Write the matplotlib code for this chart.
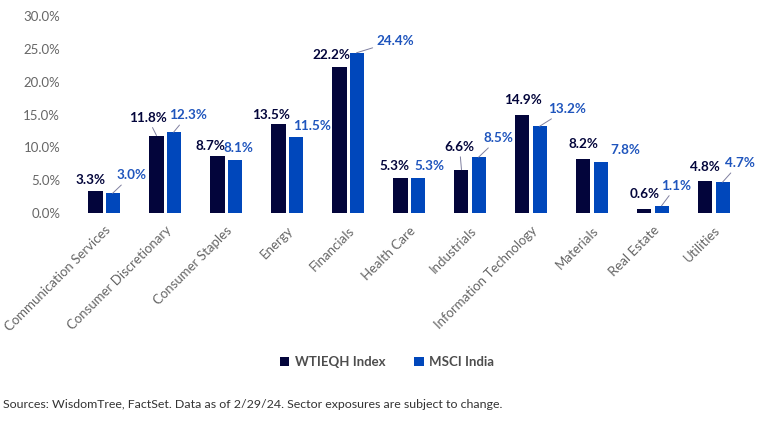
import numpy as np
import matplotlib.pyplot as plt

sectors = ["Communication Services", "Consumer Discretionary", "Consumer Staples",
           "Energy", "Financials", "Health Care", "Industrials",
           "Information Technology", "Materials", "Real Estate", "Utilities"]
wtieqh = [3.3, 11.8, 8.7, 13.5, 22.2, 5.3, 6.6, 14.9, 8.2, 0.6, 4.8]
msci = [3.0, 12.3, 8.1, 11.5, 24.4, 5.3, 8.5, 13.2, 7.8, 1.1, 4.7]

# label offsets from bar top in pixels (dx, dy up), and whether a leader line is drawn
off_dark = [(-5, 11), (-9, 18), (-7, 10), (-7, 9), (-8, 12), (-6, 12),
            (-2, 23), (0, 15), (0, 15), (0, 15), (-1, 14)]
line_dark = [0, 1, 0, 0, 0, 0, 1, 0, 0, 0, 0]
off_blue = [(19, 18), (14, 17), (4, 12), (16, 11), (39, 12), (12, 12),
            (20, 19), (27, 17), (25, 12), (15, 20), (17, 19)]
line_blue = [1, 1, 0, 0, 1, 0, 1, 1, 0, 1, 1]

c_dark = "#03053b"
c_blue = "#0047bb"
grey = "#666666"
plt.rcParams['font.family'] = ['Lato', 'DejaVu Sans']

fig = plt.figure(figsize=(7.59, 4.21), dpi=100)
ax = fig.add_axes([65/759, 1-213/421, 685/759, 197/421])

x = np.arange(len(sectors))
w = 0.23
ax.bar(x - 0.14, wtieqh, w, color=c_dark, label="WTIEQH Index")
ax.bar(x + 0.14, msci, w, color=c_blue, label="MSCI India")

ax.set_ylim(0, 30)
ax.set_xlim(-0.64, 10.59)
ax.set_yticks(np.arange(0, 31, 5))
ax.set_yticklabels([f"{v:.1f}%" for v in np.arange(0, 31, 5)], color=grey, fontsize=9.5)
ax.set_xticks(x)
ax.set_xticklabels(sectors, rotation=45, ha='right', rotation_mode='anchor',
                   color=grey, fontsize=9.5)
ax.tick_params(length=0)
ax.tick_params(axis='x', pad=8)
for s in ax.spines.values():
    s.set_visible(False)

def put(xp, val, off, line, col):
    dx, dy = off
    ap = dict(arrowstyle='-', color='#7f7f9f', lw=0.7, shrinkA=1, shrinkB=0) if line else None
    ax.annotate(f"{val:.1f}%", xy=(xp, val), xytext=(dx*0.72, dy*0.72),
                textcoords='offset points', ha='center', va='center',
                fontsize=9.7, fontweight='bold', color=col, arrowprops=ap)

for i in range(len(sectors)):
    put(x[i] - 0.14, wtieqh[i], off_dark[i], line_dark[i], c_dark)
    put(x[i] + 0.14, msci[i], off_blue[i], line_blue[i], "#1f55bd")

fig.legend(loc='center', bbox_to_anchor=(387/759, 1-362/421), ncol=2, frameon=False,
           handlelength=0.7, handleheight=0.7, handletextpad=0.4, columnspacing=2.2,
           prop={'weight': 'bold', 'size': 9.5}, labelcolor='#4d4d4d')

fig.text(3/759, 1-405/421, "Sources: WisdomTree, FactSet. Data as of 2/29/24. Sector exposures are subject to change.",
         fontsize=8.9, color='#333333', va='center', ha='left')

fig.savefig("out.png", dpi=100)
